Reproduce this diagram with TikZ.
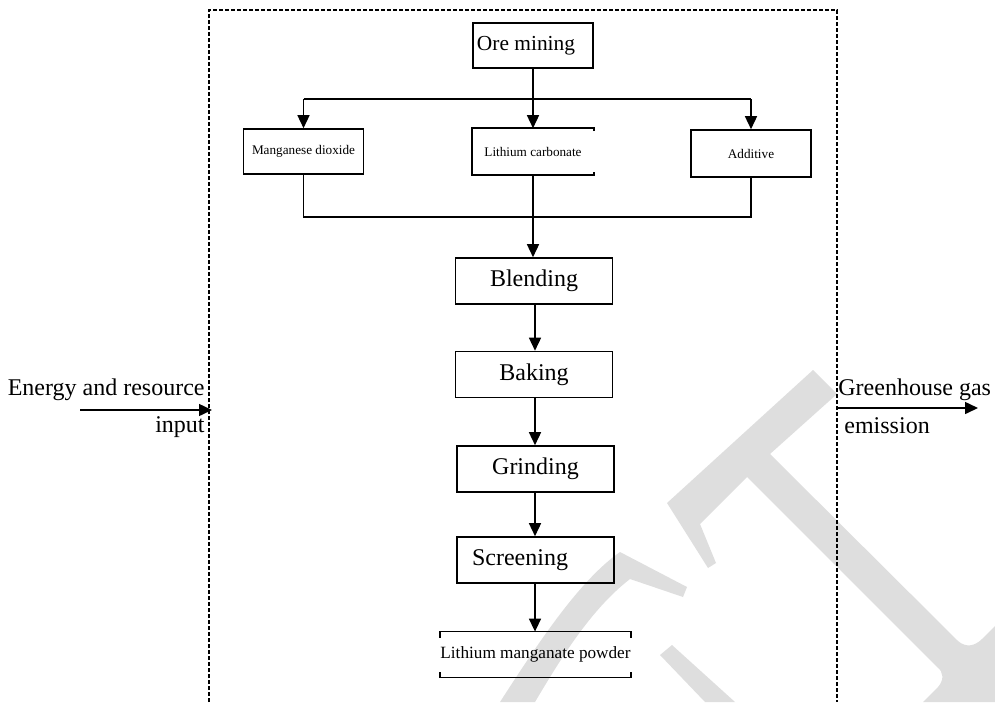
\documentclass[tikz,border=0pt]{standalone}
\usepackage{fontspec}
\setmainfont{Liberation Serif}
\usetikzlibrary{arrows.meta,calc}
\definecolor{wm}{RGB}{222,222,222}
\begin{document}
\begin{tikzpicture}[x=0.5pt,y=-0.5pt,
  proc/.style={draw,line width=0.8pt,inner sep=0pt,minimum width=78.5pt,minimum height=23pt,
    font=\fontsize{12}{14}\selectfont},
  feed/.style={draw,line width=0.8pt,inner sep=0pt,minimum width=60pt,minimum height=22.5pt,
    font=\fontsize{6.6}{8}\selectfont},
  txt/.style={inner sep=0pt},
  flow/.style={line width=0.75pt},
  arr/.style={flow,-{Triangle[width=6pt,length=6.5pt]}},
  side/.style={inner sep=0pt,font=\fontsize{12}{14}\selectfont},
  frame/.style={line width=0.6pt,dash pattern=on 2pt off 1pt}]
\useasboundingbox (0,0) rectangle (995,702);

% faint background lettering
\fill[wm] (667,503) -- (813,370) -- (837,394) -- (770,454) -- (958,641)
  .. controls (966,648) and (975,646) .. (982,639) -- (1000,621) -- (1000,702) -- (923,702)
  -- (938,687) .. controls (944,680) and (944,672) .. (937,667) -- (747,477)
  -- (700,524) -- (716,563) -- (708,568) -- cycle;
\fill[wm] (500,702) .. controls (540,640) and (580,580) .. (620,552) -- (687,587) -- (683,597)
  -- (630,579) .. controls (590,610) and (560,660) .. (535,702) -- cycle;
\fill[wm] (660,655) -- (672,645) -- (735,702) -- (705,702) -- cycle;

% system boundary
\draw[frame] (209,702) -- (209,10) -- (837,10) -- (837,702);

% raw materials
\node[feed,font=\fontsize{10.7}{13}\selectfont] (ore) at (533,45.5) {};
\node[txt,font=\fontsize{10.7}{13}\selectfont] (oret) at (526,45.5) {Ore mining};
\node[feed] (mn) at (303.5,151.5) {Manganese dioxide};
\node[feed,draw=none] (lc) at (533,151.5) {Lithium carbonate};
\node[feed,minimum height=23.5pt] (add) at (751,153.5) {Additive};
\draw[line width=0.8pt] ($(lc.north east)+(0,3)$) -- (lc.north east) -- (lc.north west)
  -- (lc.south west) -- (lc.south east) -- ($(lc.south east)+(0,-3)$);

% process chain
\node[proc] (blend) at (534,281) {Blending};
\node[proc] (bake) at (534,374.5) {Baking};
\node[proc] (grind) at (535.5,469) {Grinding};
\node[proc] (screen) at (535.5,560) {};
\node[txt,font=\fontsize{12}{14}\selectfont] (screent) at (520,560) {Screening};
\node[txt,minimum width=78.5pt,minimum height=22.5pt,font=\fontsize{8.6}{10}\selectfont]
  (lmp) at (535.5,654.5) {Lithium manganate powder};
\draw[line width=0.8pt] ($(lmp.north west)+(0,6)$) -- (lmp.north west) -- (lmp.north east)
  -- ($(lmp.north east)+(0,6)$);
\draw[line width=0.8pt] ($(lmp.south west)+(0,-5)$) -- (lmp.south west) -- (lmp.south east)
  -- ($(lmp.south east)+(0,-5)$);

% distribution and merge
\coordinate (bl) at (303.5,99);
\coordinate (br) at (751,99);
\coordinate (ml) at (303.5,217);
\coordinate (mr) at (751,217);
\draw[arr] (ore.south) -- (lc.north);
\draw[flow] (bl) -- (br);
\draw[arr] (bl) -- (mn.north);
\draw[arr] (br) -- (add.north);
\draw[flow] (mn.south) -- (ml) -- (mr) -- (add.south);
\draw[arr] (lc.south) -- (lc.south |- blend.north);
\draw[arr] (blend.south -| 535,0) -- (bake.north -| 535,0);
\draw[arr] (bake.south -| 535,0) -- (grind.north -| 535,0);
\draw[arr] (grind.south -| 535,0) -- (screen.north -| 535,0);
\draw[arr] (screen.south -| 535,0) -- (lmp.north -| 535,0);

% inputs and outputs
\node[side,anchor=base east] (ein) at (205,395) {Energy and resource};
\node[side,anchor=base east] (einp) at (205,432) {input};
\coordinate (ea) at (80,410);
\coordinate (eb) at (212,410);
\draw[arr] (ea) -- (eb);
\node[side,anchor=base west] (gh) at (838,395) {Greenhouse gas};
\node[side,anchor=base west] (em) at (844,433) {emission};
\coordinate (ga) at (838,408);
\coordinate (gb) at (978,408);
\draw[arr] (ga) -- (gb);
\end{tikzpicture}
\end{document}
